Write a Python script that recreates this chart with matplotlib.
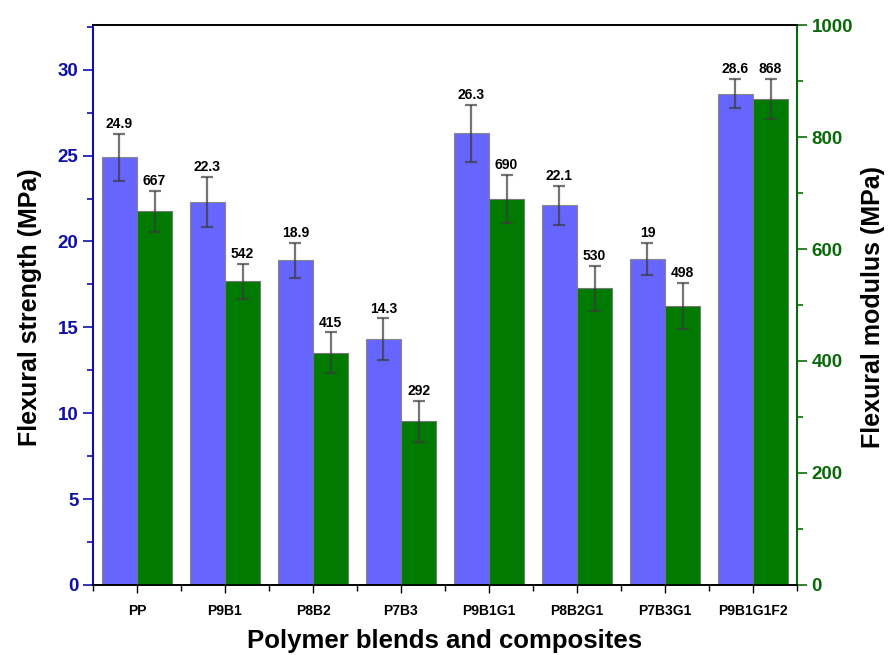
import matplotlib
matplotlib.use("Agg")
import matplotlib.pyplot as plt
import numpy as np
from matplotlib.ticker import MultipleLocator, FixedLocator

categories = ["PP", "P9B1", "P8B2", "P7B3", "P9B1G1", "P8B2G1", "P7B3G1", "P9B1G1F2"]
strength = [24.9, 22.3, 18.9, 14.3, 26.3, 22.1, 19, 28.6]
strength_err = [1.37, 1.45, 1.0, 1.22, 1.65, 1.12, 0.93, 0.85]
modulus = [667, 542, 415, 292, 690, 530, 498, 868]
modulus_err = [37, 32, 36, 37, 43, 40, 41, 36]

plt.rcParams["font.family"] = ["Liberation Sans", "DejaVu Sans"]
plt.rcParams["font.weight"] = "bold"

BLUE_FILL = "#6666ff"
GREEN_FILL = "#007a00"
LEFT_COL = "#1010a8"
RIGHT_COL = "#0a6a0a"

fig = plt.figure(figsize=(8.88, 6.55), dpi=100)
ax = fig.add_axes([0.1047, 0.1069, 0.7928, 0.8549])
ax2 = ax.twinx()

x = np.arange(len(categories))
w = 0.4
err_kw = dict(ecolor="#3a3a3a", elinewidth=1.6, capsize=4, capthick=1.6, alpha=0.7)

ax.bar(x - w / 2, strength, w, color=BLUE_FILL, edgecolor="#888888", linewidth=0.8,
       yerr=strength_err, error_kw=err_kw, zorder=2)
ax2.bar(x + w / 2, modulus, w, color=GREEN_FILL, edgecolor="#777777", linewidth=0.8,
        yerr=modulus_err, error_kw=err_kw, zorder=2)

for xi, v, e in zip(x, strength, strength_err):
    ax.annotate(f"{v:g}", (xi - w / 2, v + e), xytext=(0, 2), textcoords="offset points",
                ha="center", va="bottom", fontsize=10, fontweight="bold")
for xi, v, e in zip(x, modulus, modulus_err):
    ax2.annotate(f"{v:g}", (xi + w / 2, v + e), xytext=(0, 2), textcoords="offset points",
                 ha="center", va="bottom", fontsize=10, fontweight="bold")

ax.set_xlim(-0.5, len(categories) - 0.5)
ax.set_ylim(0, 32.6)
ax2.set_ylim(0, 1000)

ax.set_xticks(x)
ax.set_xticklabels(categories, fontsize=10, fontweight="bold")
ax.xaxis.set_minor_locator(FixedLocator(np.arange(-0.5, len(categories), 1.0)))
ax.tick_params(axis="x", which="major", direction="out", length=6, width=1, pad=8)
ax.tick_params(axis="x", which="minor", direction="out", length=4, width=1)
ax.tick_params(axis="x", top=False, which="both")

ax.yaxis.set_major_locator(MultipleLocator(5))
ax.yaxis.set_minor_locator(MultipleLocator(2.5))
ax.tick_params(axis="y", which="major", direction="out", length=7, width=1.2,
               colors=LEFT_COL, labelsize=13.5)
ax.tick_params(axis="y", which="minor", direction="out", length=4, width=1.2, colors=LEFT_COL)
for lbl in ax.get_yticklabels():
    lbl.set_fontweight("bold")

ax2.yaxis.set_major_locator(MultipleLocator(200))
ax2.yaxis.set_minor_locator(MultipleLocator(100))
ax2.tick_params(axis="y", which="major", direction="out", length=7, width=1.2,
                colors=RIGHT_COL, labelsize=13.5)
ax2.tick_params(axis="y", which="minor", direction="out", length=4, width=1.2, colors=RIGHT_COL)
for lbl in ax2.get_yticklabels():
    lbl.set_fontweight("bold")

ax.spines["left"].set_color(LEFT_COL)
ax.spines["left"].set_linewidth(1.5)
ax2.spines["left"].set_visible(False)
ax2.spines["right"].set_color(RIGHT_COL)
ax2.spines["right"].set_linewidth(1.5)
for sp in ("top", "bottom"):
    ax2.spines[sp].set_linewidth(1.2)
    ax.spines[sp].set_linewidth(1.2)
ax.spines["right"].set_visible(False)

# axis titles placed in figure coordinates
fig.text(0.5 * (93 + 797) / 888, 1 - 641 / 655, "Polymer blends and composites",
         ha="center", va="center", fontsize=18.5, fontweight="bold")
fig.text(30 / 888, 1 - 307 / 655, "Flexural strength (MPa)", rotation=90,
         ha="center", va="center", fontsize=18, fontweight="bold")
fig.text(873 / 888, 1 - 307 / 655, "Flexural modulus (MPa)", rotation=90,
         ha="center", va="center", fontsize=18, fontweight="bold")

fig.savefig("out.png", dpi=100)
